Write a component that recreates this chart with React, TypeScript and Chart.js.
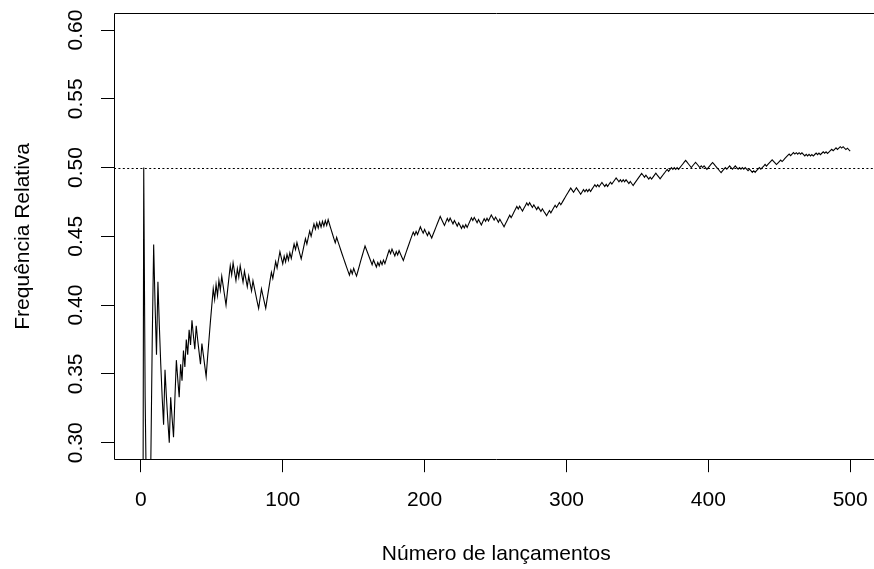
import React, { useEffect, useRef } from "react";
import { Chart, registerables } from "chart.js";

Chart.register(...registerables);

// Relative frequency after each toss (toss 1 .. 500)
const freqTosses1to60 = [
  0, 0.5, 0.333, 0.25, 0.2, 0.167, 0.286, 0.375, 0.444, 0.4,
  0.364, 0.417, 0.385, 0.357, 0.333, 0.313, 0.353, 0.333, 0.316, 0.3,
  0.333, 0.318, 0.304, 0.333, 0.36, 0.346, 0.333, 0.357, 0.345, 0.367,
  0.355, 0.375, 0.364, 0.382, 0.371, 0.389, 0.378, 0.368, 0.385, 0.375,
  0.366, 0.357, 0.372, 0.364, 0.356, 0.348, 0.362, 0.375, 0.388, 0.4,
  0.412, 0.404, 0.415, 0.407, 0.418, 0.411, 0.421, 0.414, 0.407, 0.4,
];
const freqTosses61to200 = [
  0.4098, 0.4194, 0.4286, 0.4219, 0.4308, 0.4242, 0.4179, 0.4265, 0.4203, 0.4286,
  0.4225, 0.4167, 0.4247, 0.4189, 0.4133, 0.4211, 0.4156, 0.4103, 0.4177, 0.4125,
  0.4074, 0.4024, 0.3976, 0.4048, 0.4118, 0.407, 0.4023, 0.3977, 0.4045, 0.4111,
  0.4176, 0.4239, 0.4194, 0.4255, 0.4316, 0.4271, 0.433, 0.4388, 0.4343, 0.43,
  0.4356, 0.4314, 0.4369, 0.4327, 0.4381, 0.434, 0.4393, 0.4444, 0.4404, 0.4455,
  0.4414, 0.4375, 0.4336, 0.4386, 0.4435, 0.4483, 0.4444, 0.4492, 0.4538, 0.45,
  0.4545, 0.459, 0.4553, 0.4597, 0.456, 0.4603, 0.4567, 0.4609, 0.4574, 0.4615,
  0.458, 0.4621, 0.4586, 0.4552, 0.4519, 0.4485, 0.4453, 0.4493, 0.446, 0.4429,
  0.4397, 0.4366, 0.4336, 0.4306, 0.4276, 0.4247, 0.4218, 0.4257, 0.4228, 0.4267,
  0.4238, 0.4211, 0.4248, 0.4286, 0.4323, 0.4359, 0.4395, 0.443, 0.4403, 0.4375,
  0.4348, 0.4321, 0.4294, 0.4329, 0.4303, 0.4277, 0.4311, 0.4286, 0.432, 0.4294,
  0.4327, 0.4302, 0.4335, 0.4368, 0.44, 0.4375, 0.4407, 0.4382, 0.4358, 0.4389,
  0.4365, 0.4396, 0.4372, 0.4348, 0.4324, 0.4355, 0.4385, 0.4415, 0.4444, 0.4474,
  0.4503, 0.4531, 0.4508, 0.4536, 0.4513, 0.4541, 0.4569, 0.4545, 0.4523, 0.455,
];
const freqTosses201to350 = [
  0.4527, 0.4505, 0.4532, 0.451, 0.4488, 0.4515, 0.4541, 0.4567, 0.4593, 0.4619,
  0.4645, 0.4623, 0.4601, 0.4579, 0.4605, 0.463, 0.4608, 0.4633, 0.4612, 0.4591,
  0.4615, 0.4595, 0.4574, 0.4598, 0.4578, 0.4558, 0.4581, 0.4561, 0.4585, 0.4565,
  0.4589, 0.4612, 0.4635, 0.4615, 0.4638, 0.4619, 0.4599, 0.4622, 0.4603, 0.4583,
  0.4606, 0.4628, 0.4609, 0.4631, 0.4612, 0.4634, 0.4656, 0.4637, 0.4618, 0.464,
  0.4622, 0.4603, 0.4625, 0.4606, 0.4588, 0.457, 0.4591, 0.4612, 0.4633, 0.4654,
  0.4636, 0.4656, 0.4677, 0.4697, 0.4717, 0.4699, 0.4719, 0.4701, 0.4684, 0.4704,
  0.4723, 0.4743, 0.4725, 0.4745, 0.4727, 0.471, 0.4729, 0.4712, 0.4695, 0.4714,
  0.4698, 0.4681, 0.47, 0.4683, 0.4667, 0.465, 0.4669, 0.4688, 0.4671, 0.469,
  0.4708, 0.4726, 0.471, 0.4728, 0.4746, 0.473, 0.4747, 0.4765, 0.4783, 0.48,
  0.4817, 0.4834, 0.4851, 0.4836, 0.482, 0.4837, 0.4853, 0.4838, 0.4822, 0.4806,
  0.4823, 0.484, 0.4824, 0.4841, 0.4825, 0.4842, 0.4826, 0.4843, 0.4859, 0.4875,
  0.486, 0.4876, 0.4861, 0.4877, 0.4892, 0.4877, 0.4862, 0.4878, 0.4863, 0.4879,
  0.4894, 0.488, 0.4895, 0.491, 0.4925, 0.4911, 0.4896, 0.4911, 0.4897, 0.4912,
  0.4897, 0.4912, 0.4898, 0.4884, 0.4899, 0.4884, 0.487, 0.4885, 0.49, 0.4914,
];
const freqTosses351to500 = [
  0.4929, 0.4943, 0.4958, 0.4944, 0.493, 0.4944, 0.493, 0.4916, 0.493, 0.4917,
  0.4931, 0.4945, 0.4959, 0.4945, 0.4932, 0.4918, 0.4932, 0.4946, 0.4959, 0.4973,
  0.4987, 0.4973, 0.4987, 0.5, 0.4987, 0.5, 0.4987, 0.5, 0.4987, 0.5,
  0.5013, 0.5026, 0.5039, 0.5052, 0.5039, 0.5026, 0.5013, 0.5, 0.5013, 0.5026,
  0.5038, 0.5026, 0.5013, 0.5, 0.5013, 0.5, 0.5013, 0.5, 0.4987, 0.5,
  0.5012, 0.5025, 0.5037, 0.5025, 0.5012, 0.5, 0.4988, 0.4975, 0.4963, 0.4976,
  0.4988, 0.5, 0.4988, 0.5, 0.5012, 0.5, 0.4988, 0.5, 0.5012, 0.5,
  0.4988, 0.5, 0.4988, 0.5, 0.4988, 0.5, 0.4988, 0.4977, 0.4988, 0.4977,
  0.4965, 0.4977, 0.4965, 0.4977, 0.4989, 0.5, 0.4989, 0.5, 0.5011, 0.5023,
  0.5011, 0.5023, 0.5034, 0.5045, 0.5056, 0.5045, 0.5034, 0.5022, 0.5033, 0.5044,
  0.5055, 0.5044, 0.5055, 0.5066, 0.5077, 0.5088, 0.5098, 0.5087, 0.5098, 0.5109,
  0.5098, 0.5108, 0.5097, 0.5108, 0.5097, 0.5107, 0.5096, 0.5085, 0.5096, 0.5085,
  0.5096, 0.5085, 0.5095, 0.5084, 0.5095, 0.5105, 0.5094, 0.5105, 0.5094, 0.5104,
  0.5114, 0.5104, 0.5114, 0.5103, 0.5113, 0.5123, 0.5133, 0.5123, 0.5133, 0.5143,
  0.5132, 0.5142, 0.5152, 0.5142, 0.5152, 0.5141, 0.5131, 0.5141, 0.513, 0.512,
];

const xTickValues = [0, 100, 200, 300, 400, 500];
const yTickValues = [0.3, 0.35, 0.4, 0.45, 0.5, 0.55, 0.6];
const yTickLabels = ["0.30", "0.35", "0.40", "0.45", "0.50", "0.55", "0.60"];
const referenceLevel = 0.5;
const xAxisTitle = "Número de lançamentos";
const yAxisTitle = "Frequência Relativa";

const X_MIN = -18.96;
const X_MAX = 519.96;
const Y_MIN = 0.288;
const Y_MAX = 0.612;

const CANVAS_W = 900;
const CANVAS_H = 569;
const FONT = '21px "Liberation Sans", Arial, sans-serif';

const framePlugin = {
  id: "rFrame",
  afterDraw(chart: any) {
    const { ctx, chartArea: a, scales } = chart;
    const y = scales.y;
    ctx.save();
    ctx.strokeStyle = "#000";
    ctx.lineWidth = 1;
    // dotted reference line
    const yr = Math.round(y.getPixelForValue(referenceLevel)) + 0.5;
    ctx.setLineDash([2, 2.4]);
    ctx.beginPath();
    ctx.moveTo(a.left, yr);
    ctx.lineTo(a.right, yr);
    ctx.stroke();
    ctx.setLineDash([]);
    // box: left, top, bottom (right side lies outside the visible window)
    const l = Math.floor(a.left) + 0.5;
    const t = Math.floor(a.top) + 0.5;
    const b = Math.floor(a.bottom) + 0.5;
    ctx.beginPath();
    ctx.moveTo(a.right, t);
    ctx.lineTo(l, t);
    ctx.lineTo(l, b);
    ctx.lineTo(a.right, b);
    ctx.stroke();
    // y tick labels (rotated like R)
    ctx.fillStyle = "#000";
    ctx.font = FONT;
    ctx.textAlign = "center";
    ctx.textBaseline = "alphabetic";
    yTickValues.forEach((v, i) => {
      const py = y.getPixelForValue(v);
      ctx.save();
      ctx.translate(81.5, py);
      ctx.rotate(-Math.PI / 2);
      ctx.fillText(yTickLabels[i], 0, 0);
      ctx.restore();
    });
    // y title
    ctx.save();
    ctx.translate(29, (a.top + a.bottom) / 2);
    ctx.rotate(-Math.PI / 2);
    ctx.fillText(yAxisTitle, 0, 0);
    ctx.restore();
    // x title
    ctx.fillText(xAxisTitle, (a.left + a.right) / 2, 560);
    ctx.restore();
  },
};

export default function App() {
  const canvasRef = useRef<HTMLCanvasElement | null>(null);

  useEffect(() => {
    const canvas = canvasRef.current;
    if (!canvas) return;
    const values = [
      ...freqTosses1to60,
      ...freqTosses61to200,
      ...freqTosses201to350,
      ...freqTosses351to500,
    ];
    const points = values.map((v, i) => ({ x: i + 1, y: v }));

    const chart = new Chart(canvas, {
      type: "line",
      data: {
        datasets: [
          {
            data: points,
            borderColor: "#000",
            borderWidth: 1.1,
            pointRadius: 0,
            tension: 0,
            fill: false,
          },
        ],
      },
      options: {
        animation: false,
        responsive: false,
        devicePixelRatio: 1,
        events: [],
        layout: { padding: { top: 13.5, right: CANVAS_W - 878.5, bottom: 0, left: 0 } },
        plugins: { legend: { display: false }, tooltip: { enabled: false } },
        scales: {
          x: {
            type: "linear",
            min: X_MIN,
            max: X_MAX,
            afterBuildTicks: (scale: any) => {
              scale.ticks = xTickValues.map((v) => ({ value: v }));
            },
            afterFit: (scale: any) => {
              scale.height = CANVAS_H - 459.2;
            },
            grid: {
              display: true,
              drawOnChartArea: false,
              drawTicks: true,
              tickLength: 13,
              color: "#000",
              lineWidth: 1,
            },
            border: { display: false },
            ticks: {
              color: "#000",
              font: { family: '"Liberation Sans", Arial, sans-serif', size: 21 },
              padding: 15,
              maxRotation: 0,
              minRotation: 0,
              autoSkip: false,
              callback: (v: any) => String(v),
            },
          },
          y: {
            type: "linear",
            min: Y_MIN,
            max: Y_MAX,
            afterBuildTicks: (scale: any) => {
              scale.ticks = yTickValues.map((v) => ({ value: v }));
            },
            afterFit: (scale: any) => {
              scale.width = 114;
            },
            grid: {
              display: true,
              drawOnChartArea: false,
              drawTicks: true,
              tickLength: 13,
              color: "#000",
              lineWidth: 1,
            },
            border: { display: false },
            ticks: { display: false },
          },
        },
      },
      plugins: [framePlugin],
    });

    return () => chart.destroy();
  }, []);

  return (
    <div
      style={{
        position: "fixed",
        left: 0,
        top: 0,
        width: 874,
        height: 569,
        overflow: "hidden",
        background: "#fff",
      }}
    >
      <canvas
        ref={canvasRef}
        width={CANVAS_W}
        height={CANVAS_H}
        style={{ display: "block", width: CANVAS_W, height: CANVAS_H }}
      />
    </div>
  );
}
